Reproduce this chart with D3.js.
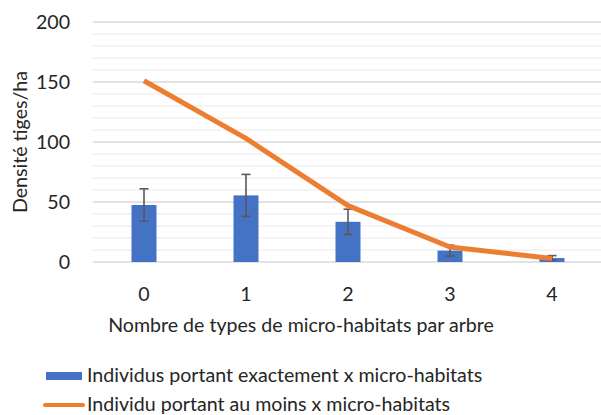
<!DOCTYPE html>
<html>
<head>
<meta charset="utf-8">
<script src="https://cdn.jsdelivr.net/npm/d3@7"></script>
<style>
  body { margin: 0; background: #fff; }
  text { font-family: Lato, "Open Sans", sans-serif; fill: #262626; }
</style>
</head>
<body>
<div id="chart"></div>
<script>
const categories = ["0", "1", "2", "3", "4"];
const exactValues = [47.5, 55.5, 33.5, 9.5, 3.3];
const exactErrors = [13.5, 17.5, 10.5, 4.5, 2];
const atLeastValues = [151, 103, 47, 12.5, 3];
const yTicks = [0, 50, 100, 150, 200];
const seriesNames = ["Individus portant exactement x micro-habitats", "Individu portant au moins x micro-habitats"];

const
  width = 601,
  height = 415,
  margin = {top: 22, bottom: 153, left: 93, right: -2};

const fs = 19.6;

const svg = d3.select("#chart").append("svg").attr("width", width).attr("height", height);

const xScale = d3.scaleBand()
  .domain(categories)
  .range([margin.left, width - margin.right])
  .paddingInner(0)
  .paddingOuter(0);

const yScale = d3.scaleLinear()
  .domain([0, 200])
  .range([height - margin.bottom, margin.top]);

// minor grid
svg.append("g")
  .selectAll("line")
  .data(d3.range(10, 200, 10).filter(v => v % 50 !== 0))
  .enter().append("line")
  .attr("x1", margin.left).attr("x2", width)
  .attr("y1", d => yScale(d)).attr("y2", d => yScale(d))
  .attr("stroke", "#f0f0f0").attr("stroke-width", 1.3);

// major grid
svg.append("g")
  .selectAll("line")
  .data(yTicks)
  .enter().append("line")
  .attr("x1", margin.left).attr("x2", width)
  .attr("y1", d => yScale(d)).attr("y2", d => yScale(d))
  .attr("stroke", "#d9d9d9").attr("stroke-width", 1.3);

const yAxis = d3.axisLeft(yScale).tickValues(yTicks).tickSize(0).tickPadding(23);
svg.append("g")
  .attr("transform", "translate(" + margin.left + ",0)")
  .call(yAxis)
  .call(g => g.select(".domain").remove())
  .call(g => g.selectAll("text").style("font-size", fs + "px").style("font-family", "Lato").attr("fill", "#262626").attr("dy", "0.35em"));

const xAxis = d3.axisBottom(xScale).tickSize(0).tickPadding(25);
svg.append("g")
  .attr("transform", "translate(0," + yScale(0) + ")")
  .call(xAxis)
  .call(g => g.select(".domain").remove())
  .call(g => g.selectAll("text").style("font-size", fs + "px").style("font-family", "Lato").attr("fill", "#262626"));

const barW = 25;
svg.selectAll("rect.bar")
  .data(exactValues)
  .enter().append("rect")
  .attr("class", "bar")
  .attr("x", (d, i) => xScale(categories[i]) + xScale.bandwidth() / 2 - barW / 2)
  .attr("width", barW)
  .attr("y", d => yScale(d))
  .attr("height", d => yScale(0) - yScale(d))
  .attr("fill", "#4472c4");

// error bars
const eb = svg.append("g").attr("stroke", "#595959").attr("stroke-width", 1.6);
exactValues.forEach((v, i) => {
  const cx = xScale(categories[i]) + xScale.bandwidth() / 2;
  const lo = Math.max(0, v - exactErrors[i]), hi = v + exactErrors[i];
  eb.append("line").attr("x1", cx).attr("x2", cx).attr("y1", yScale(lo)).attr("y2", yScale(hi));
  [lo, hi].forEach(e => eb.append("line")
    .attr("x1", cx - 4.5).attr("x2", cx + 4.5).attr("y1", yScale(e)).attr("y2", yScale(e)));
});

const line = d3.line()
  .x((d, i) => xScale(categories[i]) + xScale.bandwidth() / 2)
  .y(d => yScale(d));

svg.append("path")
  .datum(atLeastValues)
  .attr("d", line)
  .attr("fill", "none")
  .attr("stroke", "#ed7d31")
  .attr("stroke-width", 5)
  .attr("stroke-linejoin", "round");

svg.append("text")
  .attr("transform", "translate(27," + yScale(100) + ") rotate(-90)")
  .attr("text-anchor", "middle")
  .style("font-size", fs + "px")
  .text("Densité tiges/ha");

svg.append("text")
  .attr("x", 301).attr("y", 332)
  .attr("text-anchor", "middle")
  .style("font-size", fs + "px")
  .text("Nombre de types de micro-habitats par arbre");

// legend
const legend = svg.append("g");
legend.append("rect").attr("x", 46).attr("y", 372).attr("width", 36).attr("height", 8).attr("fill", "#4472c4");
legend.append("text").attr("x", 87).attr("y", 382).style("font-size", fs + "px").text(seriesNames[0]);
legend.append("line").attr("x1", 45).attr("x2", 83).attr("y1", 405).attr("y2", 405)
  .attr("stroke", "#ed7d31").attr("stroke-width", 4).attr("stroke-linecap", "round");
legend.append("text").attr("x", 87).attr("y", 411).style("font-size", fs + "px").text(seriesNames[1]);
</script>
</body>
</html>
